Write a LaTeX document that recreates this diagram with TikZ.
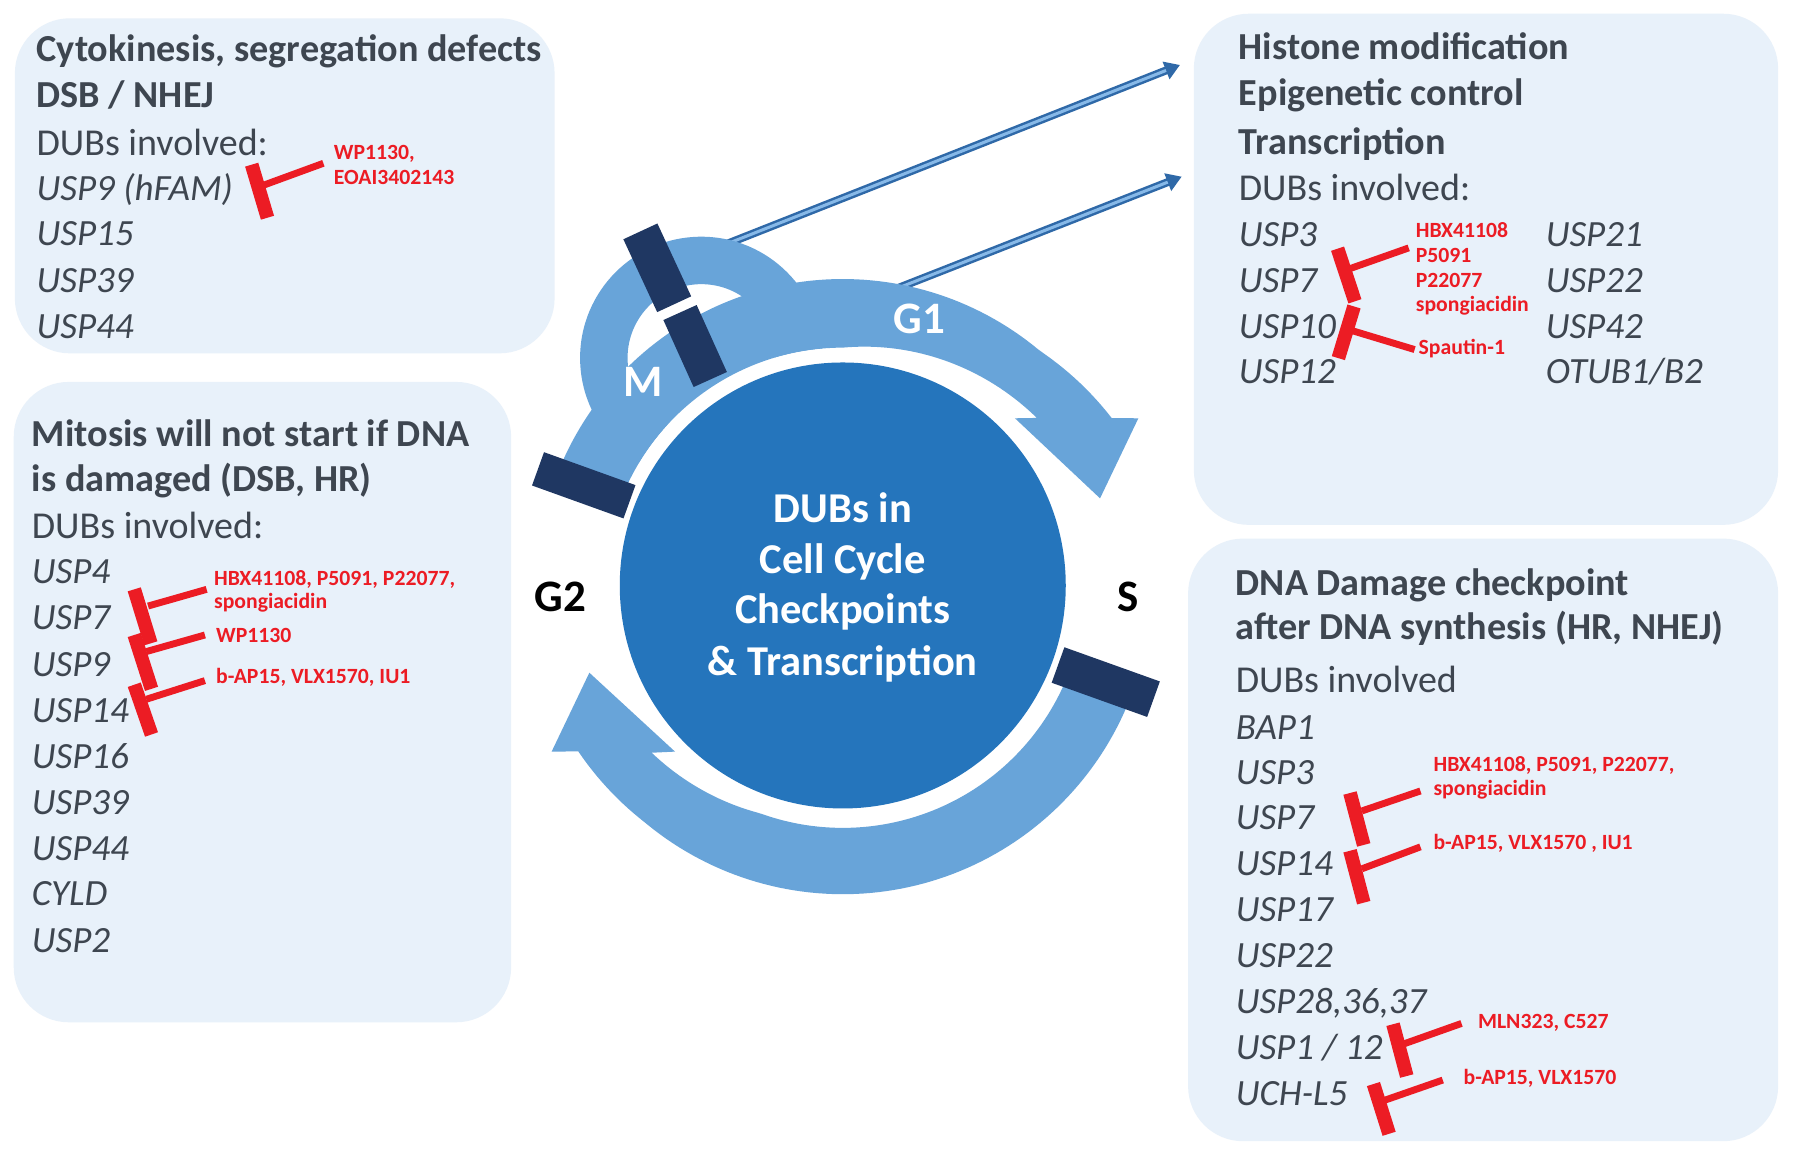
\documentclass[tikz,border=0pt]{standalone}
\usepackage{fontspec}
\setmainfont{Carlito}
\usetikzlibrary{arrows.meta}
\definecolor{boxbg}{RGB}{232,241,250}
\definecolor{txt}{RGB}{62,70,80}
\definecolor{inhred}{RGB}{236,28,36}
\definecolor{bandc}{RGB}{104,164,217}
\definecolor{corec}{RGB}{37,117,188}
\definecolor{navy}{RGB}{31,55,98}
\definecolor{tubeD}{RGB}{47,105,168}
\definecolor{tubeL}{RGB}{135,185,232}
\tikzset{
  panel/.style={fill=boxbg, rounded corners=55pt},
  tl/.style={anchor=base west, inner sep=0pt, text=txt},
  hd/.style={tl, font=\fontsize{38.2}{44}\selectfont\bfseries},
  rg/.style={tl, font=\fontsize{38}{44}\selectfont},
  gn/.style={tl, font=\fontsize{37}{44}\selectfont\itshape},
  rt/.style={anchor=base west, inner sep=0pt, text=inhred, font=\fontsize{21.7}{25}\selectfont\bfseries},
  ibar/.style={draw=inhred, line width=13.7pt},
  iline/.style={draw=inhred, line width=6.9pt},
  chk/.style={fill=navy, inner sep=0pt, outer sep=0pt},
  phw/.style={anchor=base, inner sep=0pt, text=white, font=\fontsize{45}{50}\selectfont\bfseries},
  phk/.style={phw, text=black},
  ct/.style={anchor=base, inner sep=0pt, text=white, font=\fontsize{42.5}{50}\selectfont\bfseries},
  tubeout/.style={draw=tubeD, line width=8pt, -{Triangle[width=18pt,length=15pt]}},
  tubein/.style={draw=tubeL, line width=3pt, shorten >=15pt},
}
\newcommand\inhib[5]{%
  \coordinate (#1a) at #2; \coordinate (#1b) at #3;
  \coordinate (#1m) at #4; \coordinate (#1e) at #5;
  \draw[iline] (#1e) -- (#1m);
  \draw[ibar] (#1a) -- (#1b);}
\begin{document}
\begin{tikzpicture}[x=1.1435pt, y=1.1435pt]
\useasboundingbox (0,0) rectangle (1568,-1010);
\fill[white] (0,0) rectangle (1568,-1010);

% panels
\fill[panel] (13,-16) rectangle (485,-309);
\fill[panel] (12,-334) rectangle (447,-894);
\fill[panel] (1044,-12) rectangle (1555,-459);
\fill[panel] (1039,-471) rectangle (1555,-998);

% panel 1
\node[hd] (t1a) at (31.8,-54) {Cytokinesis, segregation defects};
\node[hd] (t1b) at (31.8,-94) {DSB / NHEJ};
\node[rg] (t1c) at (31.8,-135.6) {DUBs involved:};
\node[gn] (t1d) at (31.8,-175) {USP9 (hFAM)};
\node[gn] (t1e) at (31.8,-215) {USP15};
\node[gn] (t1f) at (31.8,-256) {USP39};
\node[gn] (t1g) at (31.8,-296) {USP44};
\node[rt] (r1a) at (291.8,-139.9) {WP1130,};
\node[rt] (r1b) at (291.8,-161.2) {EOAI3402143};
\inhib{p1x}{(220.1,-144)}{(233.9,-190.4)}{(230.9,-161.8)}{(282.8,-142.8)}

% panel 2
\node[hd] (t2a) at (27.7,-390.3) {Mitosis will not start if DNA};
\node[hd] (t2b) at (27.7,-430.2) {is damaged (DSB, HR)};
\node[rg] (t2c) at (27.7,-471.2) {DUBs involved:};
\node[gn] (t2d) at (27.7,-510.7) {USP4};
\node[gn] (t2e) at (27.7,-550.9) {USP7};
\node[gn] (t2f) at (27.7,-591.5) {USP9};
\node[gn] (t2g) at (27.7,-632.2) {USP14};
\node[gn] (t2h) at (27.7,-672) {USP16};
\node[gn] (t2i) at (27.7,-712.3) {USP39};
\node[gn] (t2j) at (27.7,-752.2) {USP44};
\node[gn] (t2k) at (27.7,-792) {CYLD};
\node[gn] (t2l) at (27.7,-832.6) {USP2};
\node[rt] (r2a) at (187.1,-511.6) {HBX41108, P5091, P22077,};
\node[rt] (r2b) at (187.1,-532) {spongiacidin};
\node[rt] (r2c) at (188.9,-562) {WP1130};
\node[rt] (r2d) at (188.9,-597.6) {b-AP15, VLX1570, IU1};
\inhib{p2x}{(117.4,-515.4)}{(131.9,-562.6)}{(129.5,-530)}{(180.7,-515.4)}
\inhib{p2y}{(117.4,-555.3)}{(132.5,-602.4)}{(128,-569.8)}{(179.2,-555.3)}
\inhib{p2z}{(117.4,-598.8)}{(132.5,-642.3)}{(128,-611.5)}{(179.2,-595.2)}

% panel 3
\node[hd] (t3a) at (1083.2,-51.8) {Histone modification};
\node[hd] (t3b) at (1083.2,-91.9) {Epigenetic control};
\node[hd] (t3c) at (1083.2,-134.9) {Transcription};
\node[rg] (t3d) at (1083.2,-175.3) {DUBs involved:};
\node[gn] (t3e) at (1083.2,-215.3) {USP3};
\node[gn] (t3f) at (1083.2,-256) {USP7};
\node[gn] (t3g) at (1083.2,-295.7) {USP10};
\node[gn] (t3h) at (1083.2,-335.2) {USP12};
\node[gn] (t3i) at (1351.6,-215.3) {USP21};
\node[gn] (t3j) at (1351.6,-256) {USP22};
\node[gn] (t3k) at (1351.6,-295.7) {USP42};
\node[gn] (t3l) at (1351.6,-335.2) {OTUB1/B2};
\node[rt] (r3a) at (1238,-207.8) {HBX41108};
\node[rt] (r3b) at (1238,-229.8) {P5091};
\node[rt] (r3c) at (1238,-251.4) {P22077};
\node[rt] (r3d) at (1238,-272.5) {spongiacidin};
\node[rt] (r3e) at (1240.5,-309.6) {Spautin-1};
\inhib{p3x}{(1169.7,-217.5)}{(1184.9,-263.5)}{(1180.6,-234.9)}{(1231.9,-216.8)}
\inhib{p3y}{(1184.1,-268)}{(1170.4,-313.2)}{(1182.3,-289.1)}{(1237.1,-305.7)}

% panel 4
\node[hd] (t4a) at (1080.5,-521) {DNA Damage checkpoint};
\node[hd] (t4b) at (1080.5,-559.3) {after DNA synthesis (HR, NHEJ)};
\node[rg] (t4c) at (1080.5,-605.7) {DUBs involved};
\node[gn] (t4d) at (1080.5,-646.4) {BAP1};
\node[gn] (t4e) at (1080.5,-685.9) {USP3};
\node[gn] (t4f) at (1080.5,-725.6) {USP7};
\node[gn] (t4g) at (1080.5,-766) {USP14};
\node[gn] (t4h) at (1080.5,-805.8) {USP17};
\node[gn] (t4i) at (1080.5,-846.2) {USP22};
\node[gn] (t4j) at (1080.5,-886.3) {USP28,36,37};
\node[gn] (t4k) at (1080.5,-926.4) {USP1 / 12};
\node[gn] (t4l) at (1080.5,-966.4) {UCH-L5};
\node[rt] (r4a) at (1253.5,-674.8) {HBX41108, P5091, P22077,};
\node[rt] (r4b) at (1253.5,-696.1) {spongiacidin};
\node[rt] (r4c) at (1253.5,-743.3) {b-AP15, VLX1570 , IU1};
\node[rt] (r4d) at (1292.4,-899.2) {MLN323, C527};
\node[rt] (r4e) at (1279.8,-948) {b-AP15, VLX1570};
\inhib{p4w}{(1180.6,-693.5)}{(1192.6,-738.9)}{(1190.9,-709.2)}{(1242.2,-691.7)}
\inhib{p4x}{(1180.6,-744)}{(1192.6,-789.4)}{(1190.9,-759.8)}{(1242.2,-740.6)}
\inhib{p4y}{(1218.2,-895.7)}{(1230.2,-941)}{(1226.8,-913.2)}{(1278.1,-895)}
\inhib{p4z}{(1201.1,-948)}{(1214.8,-991.5)}{(1211.4,-962)}{(1261.7,-944.5)}

% thin arrows to the transcription panel
\coordinate (a1s) at (634.9,-213.6);
\coordinate (a1e) at (1031.9,-56.8);
\coordinate (a2s) at (781,-253.6);
\coordinate (a2e) at (1033.4,-154.5);
\draw[tubeout] (a1s) -- (a1e);
\draw[tubein] (a1s) -- (a1e);
\draw[tubeout] (a2s) -- (a2e);
\draw[tubein] (a2s) -- (a2e);

% cycle
\begin{scope}[shift={(737,-512)}]
  \fill[bandc, even odd rule] (-123.7,199) circle (106) (-123.7,199) circle (64.5);
  \fill[white] (0,0) circle (208);
  \fill[bandc] plot[domain=158.9:31.9, samples=90] ({\x}:{268+max(0,50-\x)*0.5})
     -- (258.5,146.2) -- (225,76.2) -- (150.6,146.2)
     -- plot[domain=40.8:158.9, samples=90] ({\x}:{208+max(0,90-\x)*0.33}) -- cycle;
  \fill[bandc] plot[domain=339.8:212.1, samples=90] ({\x}:{270+max(0,230-\x)*0.17})
     -- (-254.6,-145.3) -- (-221.6,-76.3) -- (-146.7,-145.3)
     -- plot[domain=221.2:339.8, samples=90] ({\x}:{212+max(0,250-\x)*0.35}) -- cycle;
\end{scope}
\node[circle, fill=corec, minimum size=446pt, inner sep=0pt] (core) at (737,-512) {};

% checkpoint bars
\node[chk, minimum width=80.3pt, minimum height=37.5pt, rotate=-65.1] (kM1) at (574.8,-234.2) {};
\node[chk, minimum width=73.5pt, minimum height=36.5pt, rotate=-65.7] (kM2) at (607.9,-302.6) {};
\node[chk, minimum width=97.2pt, minimum height=35.4pt, rotate=-19.8] (kG2) at (510.5,-424.4) {};
\node[chk, minimum width=101.4pt, minimum height=37.7pt, rotate=-19.7] (kS) at (967,-596.5) {};

% phase labels
\node[phw] (lg1) at (804.2,-292) {G1};
\node[phw] (lm) at (562.2,-346.7) {M};
\node[phk] (lg2) at (490,-534.9) {G2};
\node[phk] (ls) at (986.8,-534.9) {S};

% centre text
\node[ct] (c1) at (737,-456.9) {DUBs in};
\node[ct] (c2) at (737,-501.4) {Cell Cycle};
\node[ct] (c3) at (737,-545.1) {Checkpoints};
\node[ct] (c4) at (737,-590.3) {\& Transcription};
\end{tikzpicture}
\end{document}
